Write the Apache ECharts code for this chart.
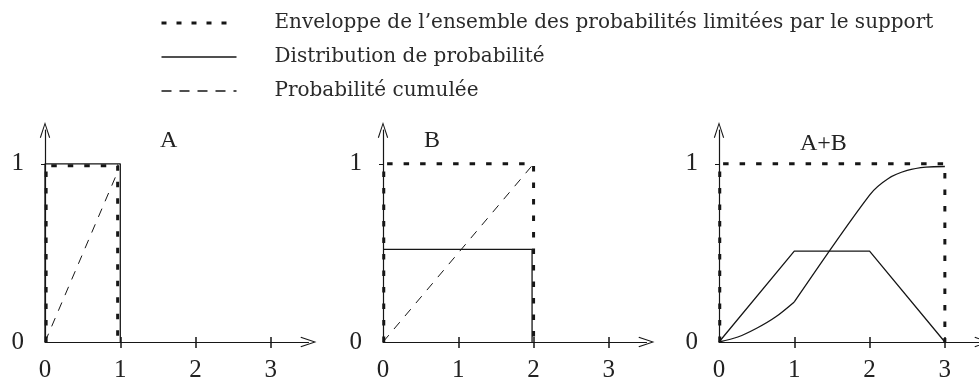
<!DOCTYPE html>
<html>
<head>
<meta charset="utf-8">
<title>Enveloppe, distribution et probabilité cumulée</title>
<script src="https://cdn.jsdelivr.net/npm/echarts@6/dist/echarts.min.js"></script>
<style>
  html, body { margin: 0; padding: 0; background: #fff; }
  #chart { width: 979px; height: 381px; }
</style>
</head>
<body>
<div id="chart"></div>
<script>
/* valeurs : [x, y] */
const panelTitles = ['A', 'B', 'A+B'];
const xTickValues = [1, 2, 3];
const xLabelValues = [0, 1, 2, 3];
const yLabelValues = [0, 1];

const envelopeA = [[0.015, 0], [0.015, 0.99], [0.965, 0.99], [0.965, 0]];
const distributionA = [[0, 0], [0, 1], [1, 1], [1, 0]];
const cumulativeA = [[0, 0], [0.98, 0.97]];

const envelopeB = [[0.01, 0], [0.01, 1], [2, 1], [2, 0]];
const distributionB = [[0, 0.52], [1.98, 0.52], [1.98, 0]];
const cumulativeB = [[0, 0], [2, 1]];

const envelopeAB = [[0.01, 0], [0.01, 1], [3, 1], [3, 0]];
const distributionAB = [[0, 0], [1, 0.51], [2, 0.51], [3, 0]];
const cumulativeABLow = [[0, 0], [0.25, 0.028], [0.5, 0.077], [0.75, 0.14], [1, 0.225]];
const cumulativeABHigh = [[1, 0.225], [2, 0.825], [2.25, 0.918], [2.5, 0.963], [2.75, 0.982], [3, 0.985]];

const legendNames = [
  'Enveloppe de l\u2019ensemble des probabilités limitées par le support',
  'Distribution de probabilité',
  'Probabilité cumulée',
];

const FONT = 'Liberation Serif';
const LEGEND_FONT = 'DejaVu Serif';
const INK = '#161616';
const ARROW = 'path://M5,0 L10,15 L9,15.5 L5,3 L1,15.5 L0,15 Z';
const gridLefts = [45, 383, 719];

const envelopeStyle = { color: INK, width: 3, type: [5.5, 11] };
const solidStyle = { color: INK, width: 1.3 };
const dashedStyle = { color: INK, width: 1, type: [9, 8] };

const grids = gridLefts.map((left) => ({
  left,
  top: 130,
  width: 263.5,
  height: 212,
  outerBoundsMode: 'none',
}));

const xAxes = [];
const yAxes = [];
gridLefts.forEach((left, i) => {
  xAxes.push({
    type: 'value',
    gridIndex: i,
    min: 0,
    max: 3.5,
    interval: 1,
    splitLine: { show: false },
    axisLine: {
      symbol: ['none', ARROW],
      symbolSize: [11, 16],
      lineStyle: { color: INK, width: 1.2 },
    },
    axisTick: {
      length: 6,
      customValues: xTickValues,
      lineStyle: { color: INK, width: 1.5 },
    },
    axisLabel: {
      customValues: xLabelValues,
      margin: 16,
      fontFamily: FONT,
      fontSize: 25,
      color: '#222',
    },
  });
  /* petits traits au-dessus de l'axe pour que les graduations le traversent */
  xAxes.push({
    type: 'value',
    gridIndex: i,
    position: 'bottom',
    min: 0,
    max: 3.5,
    interval: 1,
    splitLine: { show: false },
    axisLine: { show: false },
    axisLabel: { show: false },
    axisTick: {
      inside: true,
      length: 5,
      customValues: xTickValues,
      lineStyle: { color: INK, width: 1.5 },
    },
  });
  yAxes.push({
    type: 'value',
    gridIndex: i,
    min: 0,
    max: 1.19,
    interval: 1,
    splitLine: { show: false },
    axisLine: {
      symbol: ['none', ARROW],
      symbolSize: [11, 16],
      lineStyle: { color: INK, width: 1.2 },
    },
    axisTick: {
      length: 4,
      customValues: [1],
      lineStyle: { color: INK, width: 1 },
    },
    axisLabel: {
      customValues: yLabelValues,
      margin: 21,
      fontFamily: FONT,
      fontSize: 25,
      color: '#222',
    },
  });
});

function line(name, data, panel, lineStyle, extra) {
  return {
    type: 'line',
    name,
    data,
    xAxisIndex: panel * 2,
    yAxisIndex: panel,
    symbol: 'none',
    silent: true,
    animation: false,
    itemStyle: { color: INK },
    lineStyle,
    ...extra,
  };
}

const series = [
  line(legendNames[0], envelopeA, 0, envelopeStyle),
  line(legendNames[1], distributionA, 0, solidStyle),
  line(legendNames[2], cumulativeA, 0, dashedStyle),

  line(legendNames[0], envelopeB, 1, envelopeStyle),
  line(legendNames[1], distributionB, 1, solidStyle),
  line(legendNames[2], cumulativeB, 1, dashedStyle),

  line(legendNames[0], envelopeAB, 2, envelopeStyle),
  line(legendNames[1], distributionAB, 2, solidStyle),
  /* en A+B la courbe cumulée est tracée en trait plein */
  line('Cumulée A+B (bas)', cumulativeABLow, 2, solidStyle, { smooth: 0.3 }),
  line('Cumulée A+B (haut)', cumulativeABHigh, 2, solidStyle, { smooth: 0.3 }),
];

const titleLefts = [160, 424, 800];
const title = panelTitles.map((text, i) => ({
  text,
  left: titleLefts[i],
  top: i === 2 ? 132 : 129,
  padding: 0,
  textStyle: { fontFamily: FONT, fontSize: 24, fontWeight: 'normal', color: '#222' },
}));

/* motifs de la légende un peu plus espacés que dans les graphes */
const legendData = [
  { name: legendNames[0], lineStyle: { width: 3, type: [5, 10] } },
  { name: legendNames[1], lineStyle: { width: 1.6 } },
  { name: legendNames[2], lineStyle: { width: 1.3, type: [10, 8] } },
];

const chart = echarts.init(document.getElementById('chart'), null, { renderer: 'canvas' });
chart.setOption({
  animation: false,
  backgroundColor: '#fff',
  title,
  legend: {
    data: legendData,
    orient: 'vertical',
    left: 160,
    top: 13,
    padding: 0,
    itemWidth: 75,
    itemHeight: 24,
    itemGap: 14,
    selectedMode: false,
    itemStyle: { opacity: 0 },
    textStyle: {
      fontFamily: LEGEND_FONT,
      fontSize: 20,
      color: '#2a2a2a',
      padding: [0, 0, 0, 33],
    },
  },
  grid: grids,
  xAxis: xAxes,
  yAxis: yAxes,
  series,
});
window.addEventListener('resize', () => chart.resize());
</script>
</body>
</html>
